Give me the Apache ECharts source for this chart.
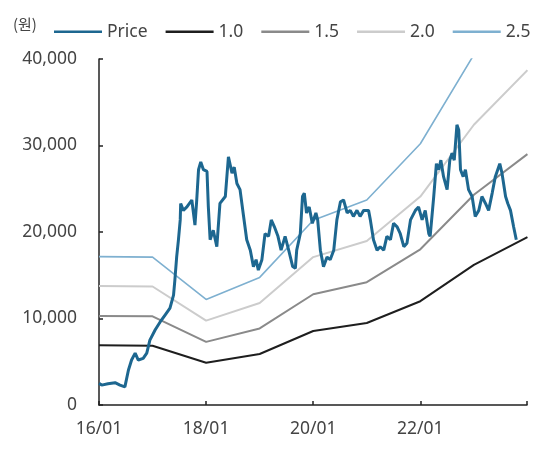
<!DOCTYPE html>
<html>
<head>
<meta charset="utf-8">
<script src="https://cdn.jsdelivr.net/npm/echarts@6/dist/echarts.min.js"></script>
<style>
  html, body { margin: 0; padding: 0; background: #fff; }
  #chart { width: 559px; height: 449px; }
</style>
</head>
<body>
<div id="chart"></div>
<script>
// Months elapsed since 2016/01 for each price observation
const priceMonths = [
  0, 0.6, 2.0, 3.6, 4.7, 5.8, 6.6, 7.3, 8.1, 8.8, 9.9, 10.7, 11.4, 12.6, 13.7, 14.8,
  15.9, 16.7, 17.0, 17.4, 17.8, 18.2, 18.3, 18.9, 19.7, 20.8, 21.5, 21.9, 22.3, 22.8,
  23.4, 24.2, 24.5, 24.9, 25.6, 26.4, 27.1, 28.3, 29.0, 29.8, 30.3, 30.9, 31.6, 32.4,
  33.1, 33.9, 34.6, 35.2, 35.7, 36.5, 37.2, 38.0, 38.6, 39.3, 40.1, 40.8, 41.7, 42.5,
  43.4, 44.0, 44.3, 45.1, 45.6, 46.0, 46.5, 47.1, 47.8, 48.6, 49.0, 49.6, 50.3, 51.1,
  51.8, 52.6, 53.3, 54.1, 54.8, 55.6, 56.3, 57.0, 57.8, 58.5, 59.3, 60.4, 60.8, 61.5,
  62.3, 63.0, 63.8, 64.5, 65.3, 66.0, 66.8, 67.5, 68.3, 69.0, 69.8, 70.9, 71.6, 72.4,
  73.1, 73.9, 74.2, 75.0, 75.6, 76.1, 76.6, 77.2, 78.0, 78.6, 79.1, 79.6, 80.2, 80.6,
  81.0, 81.6, 82.1, 82.8, 83.6, 84.3, 85.1, 85.8, 86.6, 87.3, 88.1, 88.8, 89.8, 90.3,
  91.1, 91.6, 92.2, 92.9, 93.5
];
// Share price (원)
const priceValues = [
  2500, 2300, 2450, 2580, 2300, 2100, 4050, 5200, 6000, 5200, 5400, 6000, 7500, 8700, 9600, 10400,
  11200, 12700, 14450, 17100, 19100, 21400, 23300, 22500, 22900, 23700, 20800, 23700, 27200, 28100,
  27200, 27000, 22900, 19100, 20200, 18300, 23300, 24100, 28700, 26800, 27500, 25600, 24900, 21800,
  19100, 17900, 16000, 16800, 15600, 16800, 19800, 19500, 21400, 20600, 19500, 17900, 19500, 17900,
  16000, 15800, 17900, 19800, 24100, 24500, 22200, 22900, 21000, 22200, 21400, 17900, 16000, 17100,
  16800, 17900, 21400, 23500, 23700, 22200, 22500, 21800, 22500, 21800, 22500, 22500, 21400, 19100,
  17900, 18300, 17900, 19500, 19100, 21000, 20600, 19800, 18300, 18700, 21400, 22500, 22900, 21400,
  22500, 19800, 19500, 24100, 27900, 27200, 28300, 26400, 24900, 28300, 29100, 28300, 32400, 31800,
  27200, 26400, 27200, 24900, 24100, 21800, 22500, 24100, 23300, 22500, 24500, 26400, 27900, 26800,
  24100, 23300, 22500, 20600, 19100
];

// PBR band values at each January, 2016 through 2024
const bandMonths = [0, 12, 24, 36, 48, 60, 72, 84, 96];
const band10 = [6900, 6850, 4880, 5900, 8550, 9480, 12000, 16200, 19400];
const band15 = [10300, 10250, 7300, 8850, 12800, 14200, 18000, 24300, 29000];
const band20 = [13750, 13700, 9750, 11800, 17100, 18950, 24100, 32400, 38700];
const band25 = [17150, 17100, 12200, 14750, 21350, 23700, 30200, 40500, 48400];

const seriesNames = ['Price', '1.0', '1.5', '2.0', '2.5'];
const xTickLabels = ['16/01', '18/01', '20/01', '22/01'];
const yTickStep = 10000;

const FONT = '"Noto Sans", "Noto Sans CJK KR", sans-serif';
const TEXT = '#444';
const COLORS = {
  'Price': '#1d6790',
  '1.0': '#1e1e1e',
  '1.5': '#8a8a8a',
  '2.0': '#cccccc',
  '2.5': '#7eb0d0'
};

const pairs = (xs, ys) => xs.map((x, i) => [x, ys[i]]);

function bandSeries(name, values, width) {
  return {
    name: name,
    type: 'line',
    data: pairs(bandMonths, values),
    symbol: 'none',
    clip: true,
    lineStyle: { color: COLORS[name], width: width },
    itemStyle: { color: COLORS[name] },
    z: 2
  };
}

const chart = echarts.init(document.getElementById('chart'), null, { renderer: 'canvas' });

chart.setOption({
  animation: false,
  backgroundColor: '#fff',
  textStyle: { fontFamily: FONT },
  grid: { left: 99, right: 32, top: 59, bottom: 44 },
  graphic: [{
    type: 'text',
    left: 13,
    top: 17,
    style: { text: '(원)', fontSize: 15, fontFamily: '"Noto Sans CJK KR", sans-serif', fill: TEXT }
  }],
  legend: {
    data: seriesNames.map(n => ({
      name: n,
      icon: 'rect',
      itemStyle: { color: COLORS[n] }
    })),
    left: 49,
    top: 18,
    itemWidth: 48,
    itemHeight: 2.5,
    itemGap: 18,
    textStyle: { fontSize: 17.5, color: TEXT, fontFamily: FONT }
  },
  xAxis: {
    type: 'value',
    min: 0,
    max: 95.9,
    interval: 24,
    axisLine: { show: true, lineStyle: { color: '#222', width: 1.5 } },
    axisTick: { show: true, inside: true, length: 4, lineStyle: { color: '#222', width: 1.5 } },
    splitLine: { show: false },
    axisLabel: {
      margin: 15,
      fontSize: 17.5,
      color: TEXT,
      fontFamily: FONT,
      formatter: v => xTickLabels[Math.round(v / 24)] || ''
    }
  },
  yAxis: {
    type: 'value',
    min: 0,
    max: 40000,
    interval: yTickStep,
    axisLine: { show: true, lineStyle: { color: '#222', width: 1.5 } },
    axisTick: { show: true, inside: true, length: 4, lineStyle: { color: '#222', width: 1.5 } },
    splitLine: { show: false },
    axisLabel: {
      margin: 22,
      fontSize: 17.5,
      color: TEXT,
      fontFamily: FONT,
      formatter: v => v.toLocaleString('en-US')
    }
  },
  series: [
    bandSeries('1.0', band10, 2),
    bandSeries('1.5', band15, 2),
    bandSeries('2.0', band20, 2),
    bandSeries('2.5', band25, 1.6),
    {
      name: 'Price',
      type: 'line',
      data: pairs(priceMonths, priceValues),
      symbol: 'none',
      lineStyle: { color: COLORS['Price'], width: 3 },
      itemStyle: { color: COLORS['Price'] },
      z: 5
    }
  ]
});
</script>
</body>
</html>
